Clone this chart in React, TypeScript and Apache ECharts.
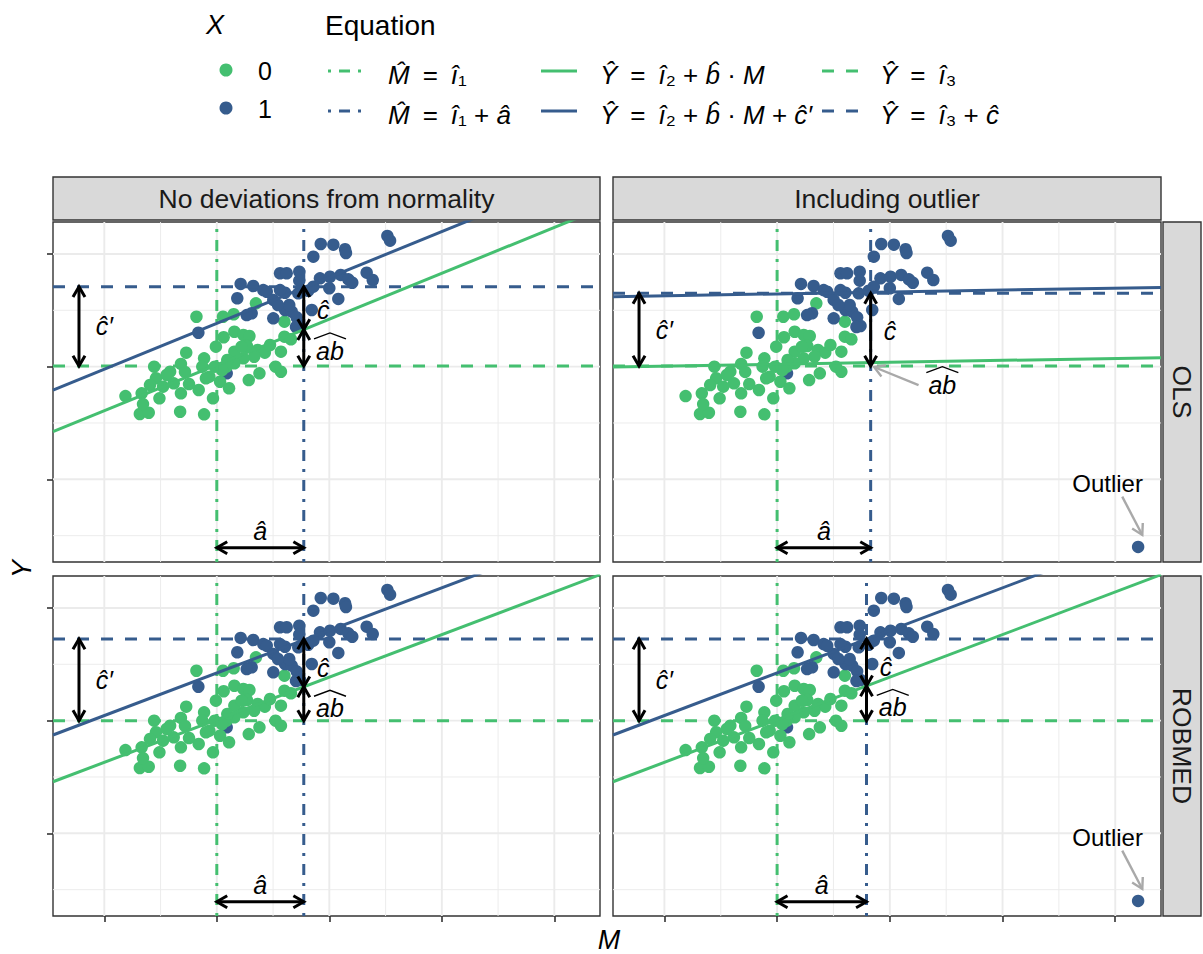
import React, { useEffect, useRef } from "react";
import * as echarts from "echarts";

const FONT = "'Liberation Sans', Arial, Helvetica, sans-serif";
const GREEN = "#44BF70";
const BLUE = "#365C8D";
const GREY_ARROW = "#A9A9A9";
const GRID_COL = "#EBEBEB";
const DARK = "#333333";
const STRIP_FILL = "#D9D9D9";

// Axis domains (the original shows ticks but no tick labels)
const X_RANGE = [-0.456, 4.406];
const Y_RANGE = [-0.734, 2.284];
const X_MAJOR = [0, 1, 2, 3, 4];
const X_MINOR = [0.5, 1.5, 2.5, 3.5];
const Y_MAJOR = [0, 1, 2];
const Y_MINOR = [-0.5, 0.5, 1.5];

const COL_LABELS = ["No deviations from normality", "Including outlier"];
const ROW_LABELS = ["OLS", "ROBMED"];

// Observations (M, Y), group X = 0
const POINTS_X0 = [
  [0.819, 1.443], [1.055, 1.443], [1.15, 1.465], [1.348, 1.562], [1.601, 1.399],
  [1.601, 1.266], [1.659, 1.243], [0.992, 1.177], [1.061, 1.261], [1.156, 1.31],
  [1.236, 1.281], [1.29, 1.272], [1.268, 1.183], [1.363, 1.148], [1.427, 1.124],
  [1.332, 1.088], [1.236, 1.074], [1.156, 1.03], [1.087, 1.0], [0.728, 1.124],
  [0.887, 1.074], [0.871, 1.0], [0.982, 1.0], [0.934, 0.911], [1.029, 0.866],
  [1.109, 0.808], [1.284, 0.881], [1.379, 0.941], [1.522, 1.0], [1.57, 0.955],
  [1.57, 1.133], [0.443, 1.0], [0.585, 0.955], [0.459, 0.897], [0.617, 0.852],
  [0.522, 0.822], [0.49, 0.719], [0.188, 0.739], [0.332, 0.763], [0.316, 0.58],
  [0.395, 0.591], [0.674, 0.6], [0.887, 0.577], [0.681, 0.763], [0.839, 0.793],
  [0.966, 0.719], [0.903, 0.897], [0.681, 1.024], [0.554, 0.926], [1.156, 1.133],
  [1.22, 1.177], [1.093, 1.059], [1.046, 0.97], [0.344, 0.668], [0.753, 0.846],
  [1.473, 1.192], [0.406, 0.837], [0.717, 0.953],
];

// Observations (M, Y), group X = 1
const POINTS_X1 = [
  [2.516, 2.16], [2.54, 2.118], [1.924, 2.089], [2.036, 2.083], [2.14, 2.042],
  [2.148, 2.009], [1.858, 1.976], [1.562, 1.829], [1.621, 1.829], [1.733, 1.843],
  [1.733, 1.763], [1.917, 1.784], [2.006, 1.798], [2.101, 1.814], [2.169, 1.775],
  [2.204, 1.745], [2.332, 1.834], [2.386, 1.769], [2.0, 1.696], [2.08, 1.601],
  [1.212, 1.734], [1.324, 1.716], [1.413, 1.68], [1.444, 1.665], [1.182, 1.607],
  [1.502, 1.592], [1.606, 1.656], [1.724, 1.651], [1.813, 1.674], [1.858, 1.71],
  [1.31, 1.474], [1.266, 1.458], [1.502, 1.429], [1.606, 1.503], [1.666, 1.488],
  [1.71, 1.438], [1.74, 1.361], [1.644, 1.547], [0.836, 1.301], [1.562, 1.68],
  [1.844, 1.503], [1.544, 1.547], [1.704, 1.352],
];
// X = 1 observation that lies under the X = 0 cloud
const POINTS_X1_BEHIND = [[1.088, 0.941]];
const OUTLIER = [4.203, -0.6];

// Per panel: OLS/normal, OLS/outlier, ROBMED/normal, ROBMED/outlier
const HAS_OUTLIER = [false, true, false, true];
const I1 = [1.0, 1.0, 1.0, 1.0];
const I1_PLUS_A = [1.773, 1.83, 1.773, 1.793];
const I2 = [0.608, 1.005, 0.63, 0.63];
const B_HAT = [0.407, 0.0169, 0.378, 0.378];
const C_PRIME = [0.37, 0.624, 0.415, 0.415];
const I3 = [1.005, 1.005, 1.0, 1.0];
const I3_PLUS_C = [1.71, 1.651, 1.725, 1.725];

// Annotation anchors (data units)
const A_ARROW_Y = -0.607;
const CP_ARROW_X = -0.225;
const AB_POINTER = [2.255, 0.837, 1.86, 0.997];
const OUTLIER_POINTER = [4.062, -0.154, 4.24, -0.494];
const OUTLIER_LABEL = [3.932, -0.034];

const PANEL_RECTS = [
  { left: 53, top: 222, width: 547, height: 340 },
  { left: 613, top: 222, width: 548, height: 340 },
  { left: 53, top: 576, width: 547, height: 340 },
  { left: 613, top: 576, width: 548, height: 340 },
];

const DASHED = [12, 12];
const DOTDASH = [3, 8, 11, 8];
const LW = 3;

function arrowsFor(p: number) {
  const yAtA = I2[p] + B_HAT[p] * I1_PLUS_A[p];
  const list: number[][] = [
    [I1[p], A_ARROW_Y, I1_PLUS_A[p], A_ARROW_Y, 1, 0],
    [CP_ARROW_X, I3_PLUS_C[p], CP_ARROW_X, I3[p], 1, 0],
  ];
  if (p === 1) {
    list.push([I1_PLUS_A[p], I3_PLUS_C[p], I1_PLUS_A[p], I3[p], 1, 0]);
    list.push([...AB_POINTER, 0, 1]);
  } else {
    list.push([I1_PLUS_A[p], I3_PLUS_C[p], I1_PLUS_A[p], yAtA, 1, 0]);
    list.push([I1_PLUS_A[p], yAtA, I1_PLUS_A[p], I3[p], 1, 0]);
  }
  if (HAS_OUTLIER[p]) list.push([...OUTLIER_POINTER, 0, 1]);
  return list;
}

type Lbl = { text: string; x: number; y: number; italic: boolean; wideHat?: boolean };
function labelsFor(p: number): Lbl[] {
  const xa = I1_PLUS_A[p];
  const out: Lbl[] = [
    { text: "\u0109\u2032", x: CP_ARROW_X + 0.225, y: (I3_PLUS_C[p] + I3[p]) / 2, italic: true },
    { text: "\u00E2", x: (I1[p] + xa) / 2, y: A_ARROW_Y + 0.148, italic: true },
  ];
  if (p === 1) {
    out.push({ text: "\u0109", x: xa + 0.172, y: 1.316, italic: true });
    out.push({ text: "ab", x: 2.466, y: 0.84, italic: true, wideHat: true });
  } else {
    const yAtA = I2[p] + B_HAT[p] * xa;
    out.push({ text: "\u0109", x: xa + 0.174, y: yAtA + 0.17, italic: true });
    out.push({ text: "ab", x: xa + 0.233, y: yAtA - 0.19, italic: true, wideHat: true });
  }
  if (HAS_OUTLIER[p]) out.push({ text: "Outlier", x: OUTLIER_LABEL[0], y: OUTLIER_LABEL[1], italic: false });
  return out;
}

function gridRender(params: any, api: any) {
  const cs = params.coordSys;
  const v = api.value(0);
  const horiz = api.value(1) === 1;
  const lw = api.value(2) === 1 ? 1.9 : 0.95;
  if (horiz) {
    const y = api.coord([X_RANGE[0], v])[1];
    return { type: "line", shape: { x1: cs.x, y1: y, x2: cs.x + cs.width, y2: y }, style: { stroke: GRID_COL, lineWidth: lw } };
  }
  const x = api.coord([v, Y_RANGE[0]])[0];
  return { type: "line", shape: { x1: x, y1: cs.y, x2: x, y2: cs.y + cs.height }, style: { stroke: GRID_COL, lineWidth: lw } };
}

function arrowRender(params: any, api: any) {
  const a = api.coord([api.value(0), api.value(1)]);
  const b = api.coord([api.value(2), api.value(3)]);
  const both = api.value(4) === 1;
  const grey = api.value(5) === 1;
  const col = grey ? GREY_ARROW : "#000000";
  const w = grey ? 2.4 : 3;
  const L = 12;
  const t = Math.PI / 6;
  const head = (tip: number[], from: number[]) => {
    const ang = Math.atan2(tip[1] - from[1], tip[0] - from[0]);
    return {
      type: "polyline",
      shape: {
        points: [
          [tip[0] - L * Math.cos(ang - t), tip[1] - L * Math.sin(ang - t)],
          [tip[0], tip[1]],
          [tip[0] - L * Math.cos(ang + t), tip[1] - L * Math.sin(ang + t)],
        ],
      },
      style: { stroke: col, fill: null, lineWidth: w, lineJoin: "miter" },
    };
  };
  const children: any[] = [
    { type: "line", shape: { x1: a[0], y1: a[1], x2: b[0], y2: b[1] }, style: { stroke: col, lineWidth: w } },
    head(b, a),
  ];
  if (both) children.push(head(a, b));
  return { type: "group", children };
}

function makeLabelRender(p: number) {
  const items = labelsFor(p);
  return (params: any, api: any) => {
    const item = items[params.dataIndex];
    const pt = api.coord([api.value(0), api.value(1)]);
    const children: any[] = [
      {
        type: "text",
        x: pt[0],
        y: pt[1],
        style: {
          text: item.text,
          fill: "#000000",
          fontSize: item.italic ? 25 : 24,
          fontFamily: FONT,
          fontStyle: item.italic ? "italic" : "normal",
          align: "center",
          verticalAlign: "middle",
        },
      },
    ];
    if (item.wideHat) {
      children.push({
        type: "polyline",
        shape: { points: [[pt[0] - 16, pt[1] - 12], [pt[0], pt[1] - 18], [pt[0] + 16, pt[1] - 12]] },
        style: { stroke: "#000000", fill: null, lineWidth: 1.4 },
      });
    }
    return { type: "group", children };
  };
}

function txt(x: number, y: number, text: string, size: number, extra: any = {}, styleExtra: any = {}) {
  return {
    type: "text",
    x,
    y,
    ...extra,
    style: { text, fontSize: size, fontFamily: FONT, fill: "#000000", align: "center", verticalAlign: "middle", ...styleExtra },
  };
}

const EQ = "\u2002=\u2002";
const LEGEND_EQ_ROW1 = [
  "{i|M\u0302}" + EQ + "{i|\u00EE}\u2081",
  "{i|\u0176}" + EQ + "{i|\u00EE}\u2082 + {i|b\u0302} \u00B7 {i|M}",
  "{i|\u0176}" + EQ + "{i|\u00EE}\u2083",
];
const LEGEND_EQ_ROW2 = [
  "{i|M\u0302}" + EQ + "{i|\u00EE}\u2081 + {i|\u00E2}",
  "{i|\u0176}" + EQ + "{i|\u00EE}\u2082 + {i|b\u0302} \u00B7 {i|M} + {i|\u0109\u2032}",
  "{i|\u0176}" + EQ + "{i|\u00EE}\u2083 + {i|\u0109}",
];
const LEGEND_KEY_TYPES = [DOTDASH, null, DASHED];

function buildGraphics() {
  const g: any[] = [];
  // legend titles
  g.push(txt(215, 25, "X", 27, {}, { fontStyle: "italic" }));
  g.push(txt(325, 25, "Equation", 28, {}, { align: "left" }));
  // X legend
  const rowY = [70, 108];
  [GREEN, BLUE].forEach((c, k) => {
    g.push({ type: "circle", shape: { cx: 226, cy: rowY[k], r: 6.5 }, style: { fill: c } });
    g.push(txt(258, rowY[k] + 1, String(k), 25, {}, { align: "left" }));
  });
  // Equation legend
  const keyX = [328, 541, 822];
  const labX = [388, 600, 880];
  const keyY = [71, 111];
  const rich = { i: { fontStyle: "italic", fontSize: 26, fontFamily: FONT, fill: "#000000" } };
  [LEGEND_EQ_ROW1, LEGEND_EQ_ROW2].forEach((row, r) => {
    row.forEach((lab, c) => {
      const dash = LEGEND_KEY_TYPES[c];
      g.push({
        type: "line",
        shape: { x1: keyX[c], y1: keyY[r], x2: keyX[c] + 36, y2: keyY[r] },
        style: { stroke: r === 0 ? GREEN : BLUE, lineWidth: LW, lineDash: dash || undefined },
      });
      g.push({
        type: "text",
        x: labX[c],
        y: keyY[r] + 4,
        style: { text: lab, rich, fontSize: 26, fontFamily: FONT, fill: "#000000", align: "left", verticalAlign: "middle" },
      });
    });
  });
  // strips
  [0, 1].forEach((c) => {
    const r = PANEL_RECTS[c];
    g.push({ type: "rect", shape: { x: r.left, y: 177, width: r.width, height: 43 }, style: { fill: STRIP_FILL, stroke: DARK, lineWidth: 1.4 } });
    g.push(txt(r.left + r.width / 2, 198.5, COL_LABELS[c], 26.5, {}, { fill: "#1A1A1A" }));
  });
  [0, 1].forEach((rr) => {
    const r = PANEL_RECTS[rr * 2 + 1];
    g.push({ type: "rect", shape: { x: 1163, y: r.top, width: 38, height: r.height }, style: { fill: STRIP_FILL, stroke: DARK, lineWidth: 1.4 } });
    g.push(txt(1182, r.top + r.height / 2, ROW_LABELS[rr], 26.5, { rotation: -Math.PI / 2 }, { fill: "#1A1A1A" }));
  });
  // axis titles
  g.push(txt(609, 940, "M", 27, {}, { fontStyle: "italic" }));
  g.push(txt(22, 569, "Y", 27, { rotation: Math.PI / 2 }, { fontStyle: "italic" }));
  return g;
}

function buildOption() {
  const grid = PANEL_RECTS.map((r) => ({
    ...r,
    show: true,
    borderColor: DARK,
    borderWidth: 1.4,
    backgroundColor: "#ffffff",
    containLabel: false,
    outerBoundsMode: "none",
  }));
  const xAxis = PANEL_RECTS.map((_, i) => ({
    gridIndex: i,
    type: "value",
    position: "bottom",
    min: X_RANGE[0],
    max: X_RANGE[1],
    axisLine: { show: false, onZero: false },
    axisLabel: { show: false },
    splitLine: { show: false },
    axisTick: { show: i >= 2, customValues: X_MAJOR, length: 6, lineStyle: { color: DARK, width: 1.6 } },
  }));
  const yAxis = PANEL_RECTS.map((_, i) => ({
    gridIndex: i,
    type: "value",
    position: "left",
    min: Y_RANGE[0],
    max: Y_RANGE[1],
    axisLine: { show: false, onZero: false },
    axisLabel: { show: false },
    splitLine: { show: false },
    axisTick: { show: i % 2 === 0, customValues: Y_MAJOR, length: 6, lineStyle: { color: DARK, width: 1.6 } },
  }));

  const series: any[] = [];
  PANEL_RECTS.forEach((_, p) => {
    const ax = { xAxisIndex: p, yAxisIndex: p };
    const gridData = [
      ...X_MAJOR.map((v) => [v, 0, 1]),
      ...X_MINOR.map((v) => [v, 0, 0]),
      ...Y_MAJOR.map((v) => [v, 1, 1]),
      ...Y_MINOR.map((v) => [v, 1, 0]),
    ];
    series.push({ type: "custom", ...ax, coordinateSystem: "cartesian2d", data: gridData, renderItem: gridRender, z: 1, silent: true, clip: false });
    const pt = { type: "scatter", ...ax, symbol: "circle", symbolSize: 12.5, z: 2, silent: true };
    series.push({ ...pt, data: POINTS_X1_BEHIND, itemStyle: { color: BLUE, opacity: 1 } });
    series.push({ ...pt, data: POINTS_X0, itemStyle: { color: GREEN, opacity: 1 } });
    series.push({ ...pt, data: HAS_OUTLIER[p] ? [...POINTS_X1, OUTLIER] : POINTS_X1, itemStyle: { color: BLUE, opacity: 1 } });

    const ln = (data: number[][], color: string, type: any) => ({
      type: "line",
      ...ax,
      data,
      symbol: "none",
      showSymbol: false,
      silent: true,
      clip: true,
      z: 3,
      lineStyle: { color, width: LW, type, opacity: 1 },
    });
    const [x0, x1] = X_RANGE;
    const [y0, y1] = Y_RANGE;
    series.push(ln([[I1[p], y0], [I1[p], y1]], GREEN, DOTDASH));
    series.push(ln([[I1_PLUS_A[p], y0], [I1_PLUS_A[p], y1]], BLUE, DOTDASH));
    series.push(ln([[x0, I3[p]], [x1, I3[p]]], GREEN, DASHED));
    series.push(ln([[x0, I3_PLUS_C[p]], [x1, I3_PLUS_C[p]]], BLUE, DASHED));
    series.push(ln([[x0, I2[p] + B_HAT[p] * x0], [x1, I2[p] + B_HAT[p] * x1]], GREEN, "solid"));
    series.push(ln([[x0, I2[p] + C_PRIME[p] + B_HAT[p] * x0], [x1, I2[p] + C_PRIME[p] + B_HAT[p] * x1]], BLUE, "solid"));

    series.push({ type: "custom", ...ax, coordinateSystem: "cartesian2d", data: arrowsFor(p), renderItem: arrowRender, z: 4, silent: true, clip: false });
    series.push({
      type: "custom",
      ...ax,
      coordinateSystem: "cartesian2d",
      data: labelsFor(p).map((l) => [l.x, l.y]),
      renderItem: makeLabelRender(p),
      z: 5,
      silent: true,
      clip: false,
    });
  });

  return {
    animation: false,
    backgroundColor: "#ffffff",
    grid,
    xAxis,
    yAxis,
    series,
    graphic: { elements: buildGraphics() },
  };
}

export default function App() {
  const ref = useRef<HTMLDivElement>(null);
  useEffect(() => {
    document.body.style.margin = "0";
    document.body.style.overflow = "hidden";
    const chart = echarts.init(ref.current as HTMLDivElement, null, { renderer: "svg" });
    chart.setOption(buildOption() as any);
    return () => chart.dispose();
  }, []);
  return (
    <div
      ref={ref}
      style={{ position: "absolute", left: 0, top: 0, width: 1203, height: 954, background: "#ffffff" }}
    />
  );
}
